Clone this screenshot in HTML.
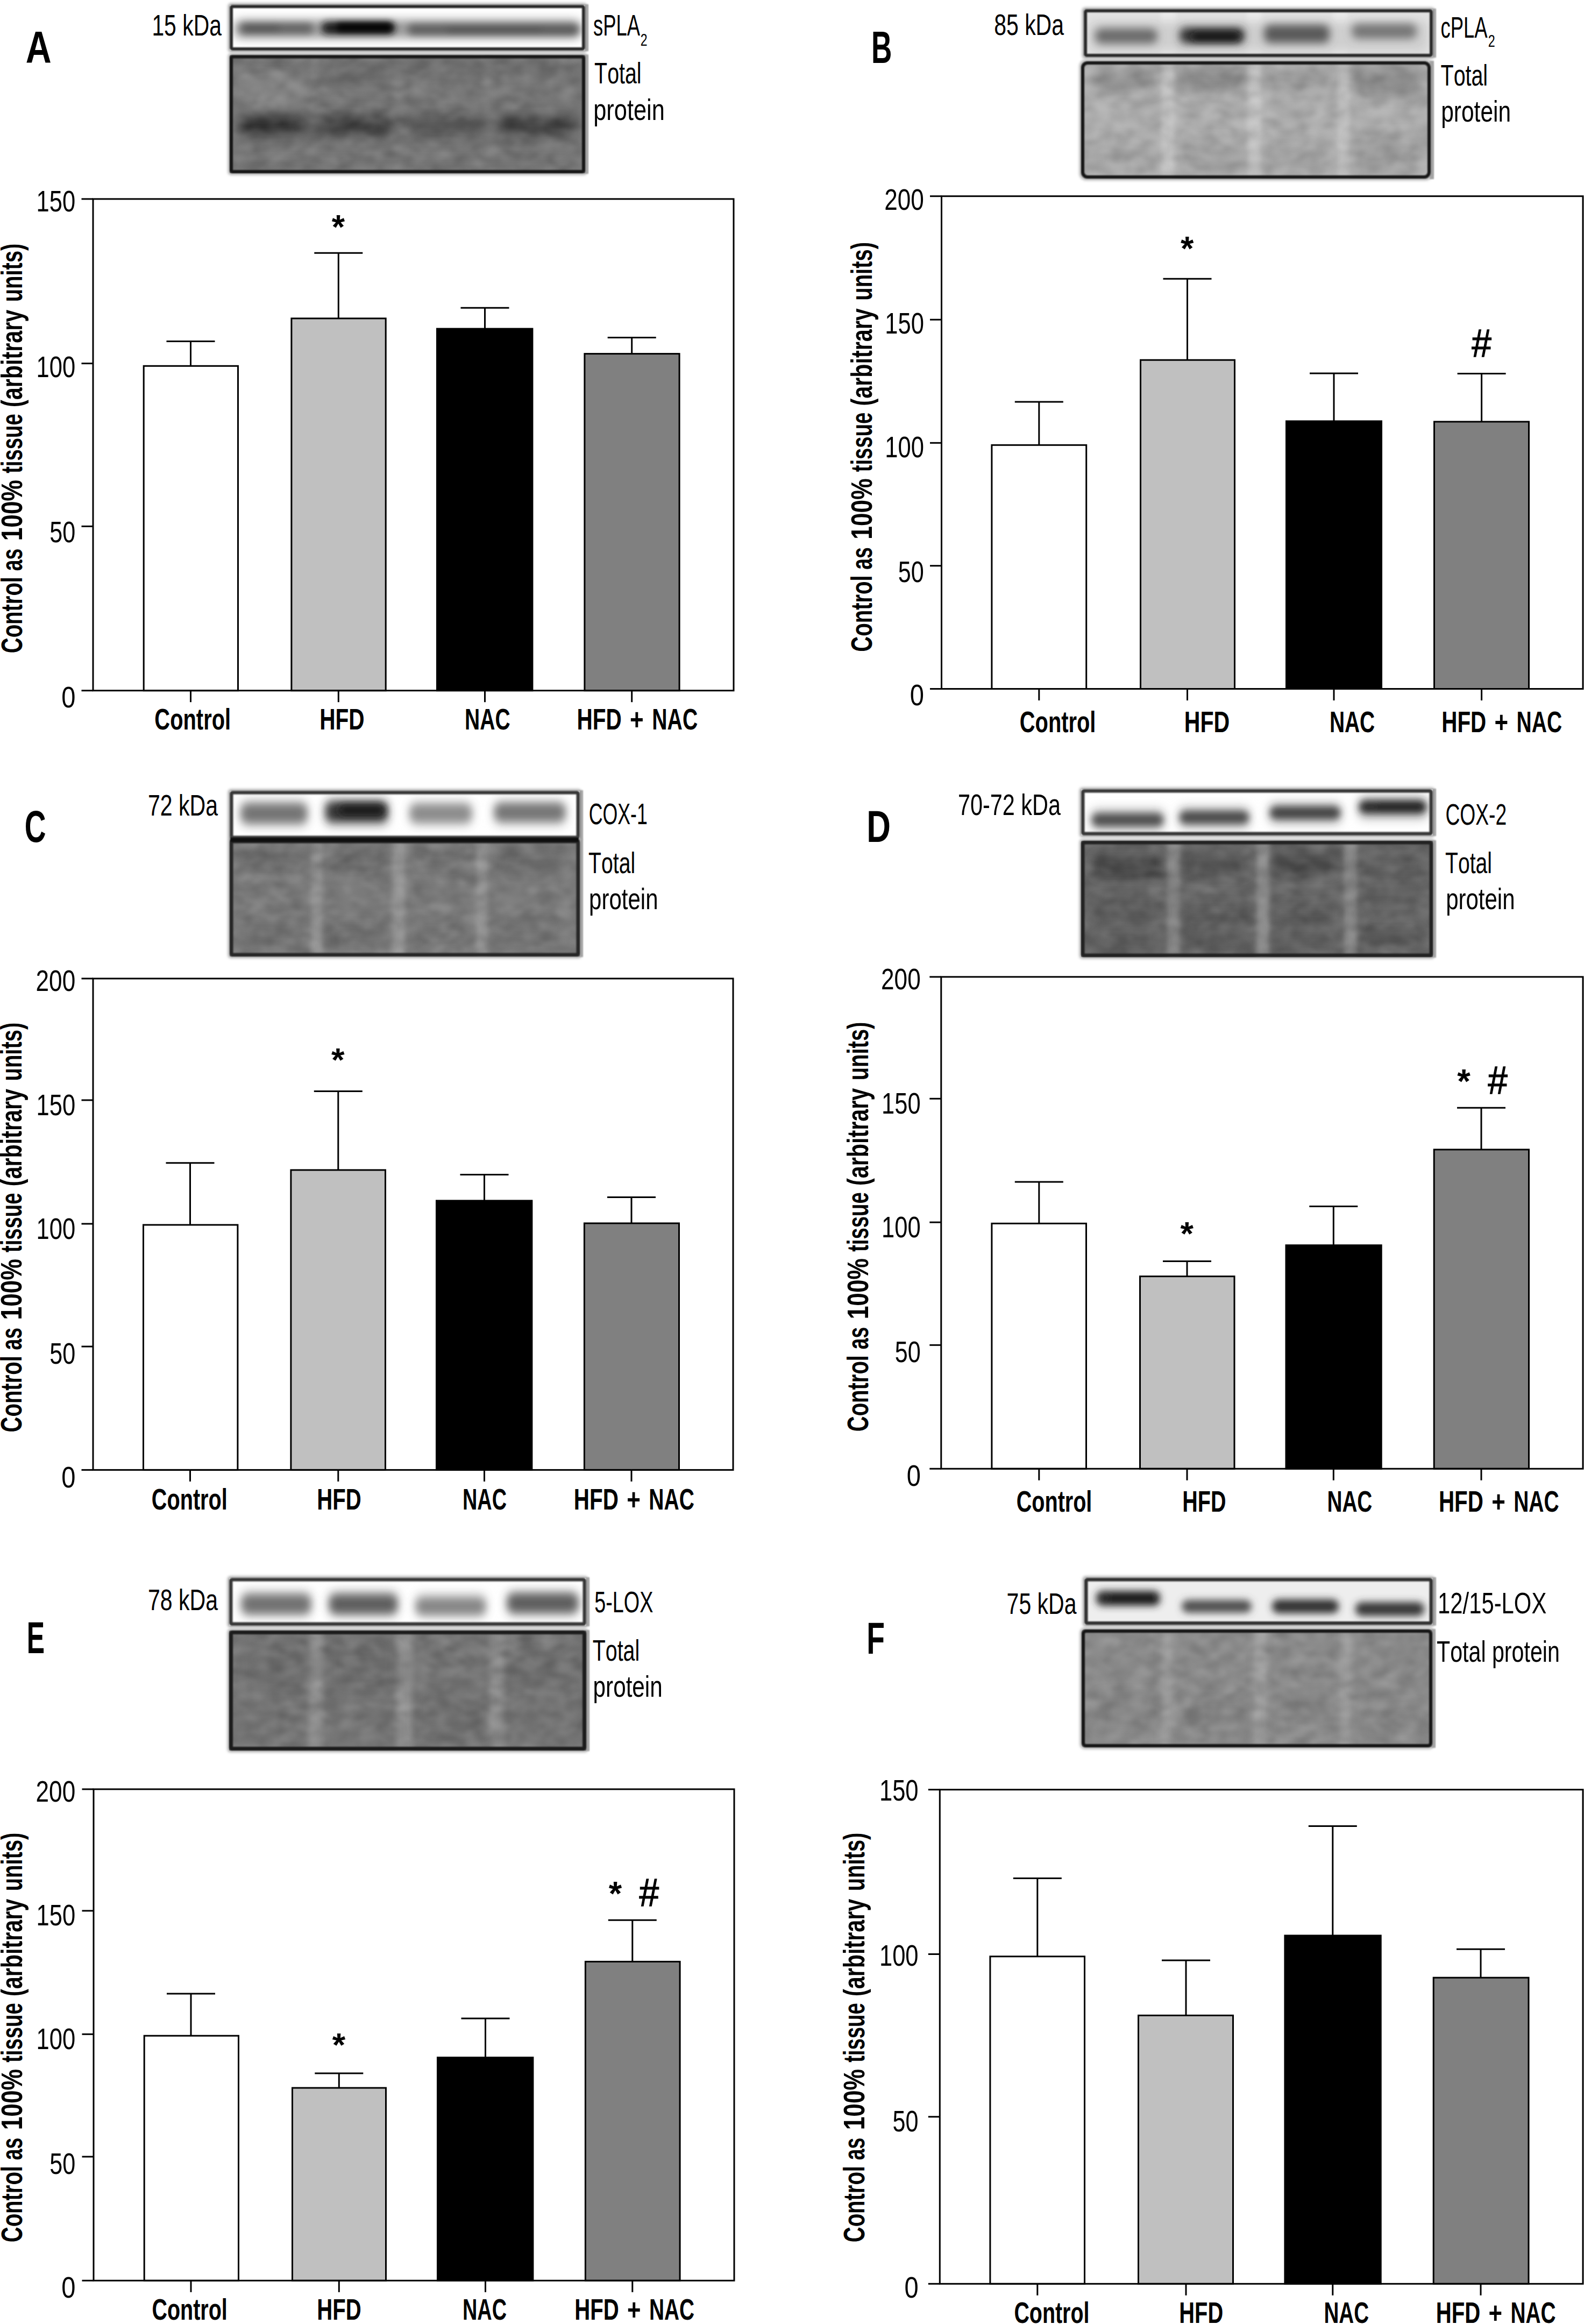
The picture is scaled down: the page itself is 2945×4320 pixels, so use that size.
<!DOCTYPE html>
<html><head><meta charset="utf-8"><title>Figure</title>
<style>html,body{margin:0;padding:0;background:#fff}svg{display:block}text{font-family:"Liberation Sans",sans-serif;font-kerning:none;fill:#000}</style>
</head><body>
<svg width="2945" height="4320" viewBox="0 0 2945 4320">
<defs>
<filter id="b1" x="-5%" y="-150%" width="110%" height="400%"><feGaussianBlur stdDeviation="1"/></filter>
<filter id="b2" x="-5%" y="-20%" width="110%" height="140%"><feGaussianBlur stdDeviation="2.5"/></filter>
<filter id="b5" x="-30%" y="-400%" width="160%" height="900%"><feGaussianBlur stdDeviation="5"/></filter>
<filter id="b6" x="-30%" y="-400%" width="160%" height="900%"><feGaussianBlur stdDeviation="6"/></filter>
<filter id="b7" x="-30%" y="-400%" width="160%" height="900%"><feGaussianBlur stdDeviation="7"/></filter>
<filter id="b8" x="-30%" y="-400%" width="160%" height="900%"><feGaussianBlur stdDeviation="8"/></filter>
<filter id="b9" x="-30%" y="-400%" width="160%" height="900%"><feGaussianBlur stdDeviation="9"/></filter>
<clipPath id="c1"><rect x="427" y="9" width="661" height="85" rx="2"/></clipPath>
<clipPath id="c2"><rect x="427" y="102.5" width="661" height="219.5" rx="2"/></clipPath>
<filter id="n2" x="0" y="0" width="100%" height="100%"><feTurbulence type="fractalNoise" baseFrequency="0.03 0.05" numOctaves="2" seed="2"/><feColorMatrix type="matrix" values="0 0 0 0 0  0 0 0 0 0  0 0 0 0 0  1.6 0 0 0 -0.5"/><feGaussianBlur stdDeviation="3"/></filter>
<filter id="w2" x="0" y="0" width="100%" height="100%"><feTurbulence type="fractalNoise" baseFrequency="0.03 0.05" numOctaves="2" seed="42"/><feColorMatrix type="matrix" values="0 0 0 0 1  0 0 0 0 1  0 0 0 0 1  1.6 0 0 0 -0.5"/><feGaussianBlur stdDeviation="3"/></filter>
<clipPath id="c3"><rect x="2015" y="17" width="649" height="89" rx="2"/></clipPath>
<clipPath id="c4"><rect x="2010" y="114" width="650" height="218" rx="9"/></clipPath>
<filter id="n4" x="0" y="0" width="100%" height="100%"><feTurbulence type="fractalNoise" baseFrequency="0.03 0.05" numOctaves="2" seed="5"/><feColorMatrix type="matrix" values="0 0 0 0 0  0 0 0 0 0  0 0 0 0 0  1.6 0 0 0 -0.5"/><feGaussianBlur stdDeviation="3"/></filter>
<filter id="w4" x="0" y="0" width="100%" height="100%"><feTurbulence type="fractalNoise" baseFrequency="0.03 0.05" numOctaves="2" seed="45"/><feColorMatrix type="matrix" values="0 0 0 0 1  0 0 0 0 1  0 0 0 0 1  1.6 0 0 0 -0.5"/><feGaussianBlur stdDeviation="3"/></filter>
<clipPath id="c5"><rect x="427" y="1470" width="651" height="90" rx="2"/></clipPath>
<clipPath id="c6"><rect x="427" y="1561" width="651" height="217" rx="2"/></clipPath>
<filter id="n6" x="0" y="0" width="100%" height="100%"><feTurbulence type="fractalNoise" baseFrequency="0.03 0.05" numOctaves="2" seed="7"/><feColorMatrix type="matrix" values="0 0 0 0 0  0 0 0 0 0  0 0 0 0 0  1.6 0 0 0 -0.5"/><feGaussianBlur stdDeviation="3"/></filter>
<filter id="w6" x="0" y="0" width="100%" height="100%"><feTurbulence type="fractalNoise" baseFrequency="0.03 0.05" numOctaves="2" seed="47"/><feColorMatrix type="matrix" values="0 0 0 0 1  0 0 0 0 1  0 0 0 0 1  1.6 0 0 0 -0.5"/><feGaussianBlur stdDeviation="3"/></filter>
<clipPath id="c7"><rect x="2010" y="1467" width="654" height="86" rx="2"/></clipPath>
<clipPath id="c8"><rect x="2010" y="1563" width="654" height="216" rx="2"/></clipPath>
<filter id="n8" x="0" y="0" width="100%" height="100%"><feTurbulence type="fractalNoise" baseFrequency="0.03 0.05" numOctaves="2" seed="11"/><feColorMatrix type="matrix" values="0 0 0 0 0  0 0 0 0 0  0 0 0 0 0  1.6 0 0 0 -0.5"/><feGaussianBlur stdDeviation="3"/></filter>
<filter id="w8" x="0" y="0" width="100%" height="100%"><feTurbulence type="fractalNoise" baseFrequency="0.03 0.05" numOctaves="2" seed="51"/><feColorMatrix type="matrix" values="0 0 0 0 1  0 0 0 0 1  0 0 0 0 1  1.6 0 0 0 -0.5"/><feGaussianBlur stdDeviation="3"/></filter>
<clipPath id="c9"><rect x="426" y="2933" width="664" height="89" rx="2"/></clipPath>
<clipPath id="c10"><rect x="426" y="3031" width="664" height="223" rx="2"/></clipPath>
<filter id="n10" x="0" y="0" width="100%" height="100%"><feTurbulence type="fractalNoise" baseFrequency="0.03 0.05" numOctaves="2" seed="13"/><feColorMatrix type="matrix" values="0 0 0 0 0  0 0 0 0 0  0 0 0 0 0  1.6 0 0 0 -0.5"/><feGaussianBlur stdDeviation="3"/></filter>
<filter id="w10" x="0" y="0" width="100%" height="100%"><feTurbulence type="fractalNoise" baseFrequency="0.03 0.05" numOctaves="2" seed="53"/><feColorMatrix type="matrix" values="0 0 0 0 1  0 0 0 0 1  0 0 0 0 1  1.6 0 0 0 -0.5"/><feGaussianBlur stdDeviation="3"/></filter>
<clipPath id="c11"><rect x="2016" y="2933" width="648" height="87.5" rx="2"/></clipPath>
<clipPath id="c12"><rect x="2011" y="3029" width="652" height="219" rx="5"/></clipPath>
<filter id="n12" x="0" y="0" width="100%" height="100%"><feTurbulence type="fractalNoise" baseFrequency="0.03 0.05" numOctaves="2" seed="17"/><feColorMatrix type="matrix" values="0 0 0 0 0  0 0 0 0 0  0 0 0 0 0  1.6 0 0 0 -0.5"/><feGaussianBlur stdDeviation="3"/></filter>
<filter id="w12" x="0" y="0" width="100%" height="100%"><feTurbulence type="fractalNoise" baseFrequency="0.03 0.05" numOctaves="2" seed="57"/><feColorMatrix type="matrix" values="0 0 0 0 1  0 0 0 0 1  0 0 0 0 1  1.6 0 0 0 -0.5"/><feGaussianBlur stdDeviation="3"/></filter>
</defs>
<rect width="2945" height="4320" fill="#fff"/>
<rect x="426.5" y="8.5" width="662" height="86" rx="3" fill="none" stroke="#a8a8a8" stroke-width="5" filter="url(#b2)"/>
<rect x="1086" y="8" width="8" height="87" fill="#a4a4a4" filter="url(#b1)"/>
<rect x="427" y="9" width="661" height="85" rx="2" fill="#fff"/>
<g clip-path="url(#c1)">
<g filter="url(#b9)">
<rect x="436.0" y="37.0" width="644.0" height="34" rx="12.0" fill="#9a9a9a"/>
</g>
<g filter="url(#b7)">
<rect x="446.0" y="44.5" width="136.0" height="17" rx="8.5" fill="#5e5e5e"/>
<rect x="452.0" y="45.0" width="68.0" height="14" rx="7.0" fill="#505050"/>
<rect x="598.0" y="41.0" width="136.0" height="22" rx="11.0" fill="#161616"/>
</g>
<g filter="url(#b6)">
<rect x="625.0" y="44.0" width="105.0" height="14" rx="7.0" fill="#000"/>
</g>
<g filter="url(#b7)">
<rect x="758.0" y="46.0" width="318.0" height="18" rx="9.0" fill="#5c5c5c"/>
<rect x="830.0" y="51.0" width="180.0" height="10" rx="5.0" fill="#4c4c4c"/>
<rect x="1010.0" y="51.0" width="64.0" height="12" rx="6.0" fill="#555"/>
</g>
</g>
<rect x="430.0" y="12.0" width="655" height="79" rx="2" fill="none" stroke="#2a2a2a" stroke-width="6" filter="url(#b1)"/>
<rect x="426.5" y="102.0" width="662" height="220.5" rx="3" fill="none" stroke="#a8a8a8" stroke-width="5" filter="url(#b2)"/>
<rect x="1086" y="101.5" width="8" height="221.5" fill="#a4a4a4" filter="url(#b1)"/>
<rect x="427" y="102.5" width="661" height="219.5" rx="2" fill="#767676"/>
<g clip-path="url(#c2)">
<g filter="url(#b5)">
<rect x="573.0" y="72.5" width="16" height="279.5" fill="#7e7e7e"/>
<rect x="732.0" y="72.5" width="20" height="279.5" fill="#7e7e7e"/>
<rect x="899.0" y="72.5" width="18" height="279.5" fill="#7e7e7e"/>
</g>
<g filter="url(#b9)">
<rect x="447.0" y="130.0" width="121.0" height="70" rx="12.0" fill="#848484"/>
<rect x="600.0" y="115.0" width="470.0" height="22" rx="11.0" fill="#686868"/>
<rect x="447.0" y="114.0" width="121.0" height="16" rx="8.0" fill="#666"/>
<rect x="600.0" y="140.0" width="120.0" height="20" rx="10.0" fill="#666"/>
<rect x="440.0" y="206.0" width="635.0" height="56" rx="12.0" fill="#666"/>
<rect x="447.0" y="216.0" width="121.0" height="36" rx="12.0" fill="#2c2c2c"/>
<rect x="594.0" y="217.0" width="128.0" height="34" rx="12.0" fill="#383838"/>
<rect x="765.0" y="218.0" width="125.0" height="30" rx="12.0" fill="#545454"/>
<rect x="928.0" y="217.0" width="140.0" height="34" rx="12.0" fill="#3a3a3a"/>
<rect x="440.0" y="285.0" width="635.0" height="30" rx="12.0" fill="#727272"/>
</g>
<rect x="427" y="102.5" width="661" height="219.5" filter="url(#n2)" opacity="0.17"/>
<rect x="427" y="102.5" width="661" height="219.5" filter="url(#w2)" opacity="0.17"/>
</g>
<rect x="430.0" y="105.5" width="655" height="213.5" rx="2" fill="none" stroke="#161616" stroke-width="6" filter="url(#b1)"/>
<rect x="2014.5" y="16.5" width="650" height="90" rx="3" fill="none" stroke="#a8a8a8" stroke-width="5" filter="url(#b2)"/>
<rect x="2662" y="16" width="8" height="91" fill="#a4a4a4" filter="url(#b1)"/>
<rect x="2015" y="17" width="649" height="89" rx="2" fill="#e2e2e2"/>
<g clip-path="url(#c3)">
<g filter="url(#b5)">
<rect x="2159.0" y="-13" width="26" height="149" fill="#ececec"/>
<rect x="2319.0" y="-13" width="26" height="149" fill="#ececec"/>
<rect x="2479.0" y="-13" width="26" height="149" fill="#ececec"/>
</g>
<g filter="url(#b9)">
<rect x="2025.0" y="40.0" width="630.0" height="56" rx="12.0" fill="#cfcfcf"/>
</g>
<g filter="url(#b8)">
<rect x="2036.0" y="53.0" width="116.0" height="28" rx="12.0" fill="#6a6a6a"/>
<rect x="2193.0" y="51.0" width="121.0" height="30" rx="12.0" fill="#303030"/>
</g>
<g filter="url(#b7)">
<rect x="2215.0" y="61.0" width="90.0" height="14" rx="7.0" fill="#141414"/>
</g>
<g filter="url(#b8)">
<rect x="2350.0" y="46.0" width="122.0" height="34" rx="12.0" fill="#5a5a5a"/>
<rect x="2513.0" y="44.0" width="121.0" height="28" rx="12.0" fill="#767676"/>
</g>
</g>
<rect x="2018.0" y="20.0" width="643" height="83" rx="2" fill="none" stroke="#2a2a2a" stroke-width="6" filter="url(#b1)"/>
<rect x="2009.5" y="113.5" width="651" height="219" rx="10" fill="none" stroke="#a8a8a8" stroke-width="5" filter="url(#b2)"/>
<rect x="2658" y="113" width="8" height="220" fill="#a4a4a4" filter="url(#b1)"/>
<rect x="2010" y="114" width="650" height="218" rx="9" fill="#b0b0b0"/>
<g clip-path="url(#c4)">
<g filter="url(#b5)">
<rect x="2159.0" y="84" width="24" height="278" fill="#c4c4c4"/>
<rect x="2319.0" y="84" width="26" height="278" fill="#c6c6c6"/>
<rect x="2486.0" y="84" width="24" height="278" fill="#c2c2c2"/>
</g>
<g filter="url(#b9)">
<rect x="2036.0" y="125.0" width="115.0" height="46" rx="12.0" fill="#949494"/>
<rect x="2195.0" y="123.0" width="117.0" height="46" rx="12.0" fill="#8a8a8a"/>
<rect x="2350.0" y="128.0" width="120.0" height="40" rx="12.0" fill="#9c9c9c"/>
<rect x="2513.0" y="120.0" width="127.0" height="60" rx="12.0" fill="#8e8e8e"/>
<rect x="2036.0" y="260.0" width="115.0" height="60" rx="12.0" fill="#a8a8a8"/>
<rect x="2195.0" y="260.0" width="117.0" height="60" rx="12.0" fill="#a4a4a4"/>
<rect x="2350.0" y="260.0" width="120.0" height="60" rx="12.0" fill="#a6a6a6"/>
<rect x="2513.0" y="250.0" width="127.0" height="70" rx="12.0" fill="#a0a0a0"/>
</g>
<rect x="2010" y="114" width="650" height="218" filter="url(#n4)" opacity="0.17"/>
<rect x="2010" y="114" width="650" height="218" filter="url(#w4)" opacity="0.17"/>
</g>
<rect x="2013.0" y="117.0" width="644" height="212" rx="9" fill="none" stroke="#141414" stroke-width="6" filter="url(#b1)"/>
<rect x="426.5" y="1469.5" width="652" height="91" rx="3" fill="none" stroke="#a8a8a8" stroke-width="5" filter="url(#b2)"/>
<rect x="1076" y="1469" width="8" height="92" fill="#a4a4a4" filter="url(#b1)"/>
<rect x="427" y="1470" width="651" height="90" rx="2" fill="#fff"/>
<g clip-path="url(#c5)">
<g filter="url(#b9)">
<rect x="447.0" y="1485.0" width="125.0" height="54" rx="12.0" fill="#d0d0d0"/>
<rect x="604.0" y="1483.0" width="118.0" height="54" rx="12.0" fill="#c0c0c0"/>
<rect x="761.0" y="1487.0" width="117.0" height="50" rx="12.0" fill="#d8d8d8"/>
<rect x="918.0" y="1486.0" width="134.0" height="50" rx="12.0" fill="#d0d0d0"/>
</g>
<g filter="url(#b8)">
<rect x="449.0" y="1495.0" width="121.0" height="34" rx="12.0" fill="#747474"/>
<rect x="606.0" y="1491.0" width="114.0" height="36" rx="12.0" fill="#363636"/>
</g>
<g filter="url(#b7)">
<rect x="630.0" y="1497.0" width="85.0" height="18" rx="9.0" fill="#1c1c1c"/>
</g>
<g filter="url(#b8)">
<rect x="763.0" y="1496.0" width="113.0" height="32" rx="12.0" fill="#8c8c8c"/>
<rect x="920.0" y="1494.0" width="130.0" height="32" rx="12.0" fill="#767676"/>
</g>
</g>
<rect x="430.25" y="1473.25" width="644.5" height="83.5" rx="2" fill="none" stroke="#383838" stroke-width="6.5" filter="url(#b1)"/>
<rect x="426.5" y="1560.5" width="652" height="218" rx="3" fill="none" stroke="#a8a8a8" stroke-width="5" filter="url(#b2)"/>
<rect x="1076" y="1560" width="8" height="219" fill="#a4a4a4" filter="url(#b1)"/>
<rect x="427" y="1561" width="651" height="217" rx="2" fill="#7a7a7a"/>
<g clip-path="url(#c6)">
<g filter="url(#b5)">
<rect x="578.0" y="1531" width="22" height="277" fill="#909090"/>
<rect x="729.0" y="1531" width="24" height="277" fill="#949494"/>
<rect x="885.0" y="1531" width="22" height="277" fill="#909090"/>
</g>
<g filter="url(#b9)">
<rect x="449.0" y="1575.0" width="121.0" height="50" rx="12.0" fill="#6e6e6e"/>
<rect x="606.0" y="1575.0" width="114.0" height="50" rx="12.0" fill="#6a6a6a"/>
<rect x="763.0" y="1575.0" width="113.0" height="50" rx="12.0" fill="#727272"/>
<rect x="920.0" y="1575.0" width="130.0" height="50" rx="12.0" fill="#6a6a6a"/>
<rect x="449.0" y="1710.0" width="121.0" height="50" rx="12.0" fill="#707070"/>
<rect x="606.0" y="1710.0" width="114.0" height="50" rx="12.0" fill="#707070"/>
<rect x="763.0" y="1715.0" width="113.0" height="40" rx="12.0" fill="#747474"/>
<rect x="920.0" y="1710.0" width="130.0" height="50" rx="12.0" fill="#727272"/>
</g>
<rect x="427" y="1561" width="651" height="217" filter="url(#n6)" opacity="0.17"/>
<rect x="427" y="1561" width="651" height="217" filter="url(#w6)" opacity="0.17"/>
</g>
<rect x="430.25" y="1564.25" width="644.5" height="210.5" rx="2" fill="none" stroke="#262626" stroke-width="6.5" filter="url(#b1)"/>
<rect x="428" y="1556.5" width="648" height="8" fill="#080808" filter="url(#b1)"/>
<rect x="2009.5" y="1466.5" width="655" height="87" rx="3" fill="none" stroke="#a8a8a8" stroke-width="5" filter="url(#b2)"/>
<rect x="2662" y="1466" width="8" height="88" fill="#a4a4a4" filter="url(#b1)"/>
<rect x="2010" y="1467" width="654" height="86" rx="2" fill="#fff"/>
<g clip-path="url(#c7)">
<g filter="url(#b9)">
<rect x="2028.0" y="1502.0" width="137.0" height="44" rx="12.0" fill="#cecece"/>
<rect x="2191.0" y="1498.0" width="133.0" height="44" rx="12.0" fill="#cecece"/>
<rect x="2359.0" y="1490.0" width="135.0" height="44" rx="12.0" fill="#cccccc"/>
<rect x="2525.0" y="1480.0" width="129.0" height="44" rx="12.0" fill="#c4c4c4"/>
</g>
<g filter="url(#b7)">
<rect x="2030.0" y="1512.0" width="133.0" height="24" rx="12.0" fill="#505050"/>
<rect x="2193.0" y="1507.5" width="129.0" height="24" rx="12.0" fill="#4c4c4c"/>
<rect x="2361.0" y="1499.0" width="131.0" height="24" rx="12.0" fill="#444"/>
<rect x="2527.0" y="1488.0" width="125.0" height="24" rx="12.0" fill="#2a2a2a"/>
<rect x="2560.0" y="1493.0" width="88.0" height="12" rx="6.0" fill="#1c1c1c"/>
</g>
</g>
<rect x="2013.25" y="1470.25" width="647.5" height="79.5" rx="2" fill="none" stroke="#383838" stroke-width="6.5" filter="url(#b1)"/>
<rect x="2009.5" y="1562.5" width="655" height="217" rx="3" fill="none" stroke="#a8a8a8" stroke-width="5" filter="url(#b2)"/>
<rect x="2662" y="1562" width="8" height="218" fill="#a4a4a4" filter="url(#b1)"/>
<rect x="2010" y="1563" width="654" height="216" rx="2" fill="#646464"/>
<g clip-path="url(#c8)">
<g filter="url(#b5)">
<rect x="2170.0" y="1533" width="24" height="276" fill="#868686"/>
<rect x="2336.0" y="1533" width="24" height="276" fill="#8a8a8a"/>
<rect x="2499.0" y="1533" width="24" height="276" fill="#868686"/>
</g>
<g filter="url(#b8)">
<rect x="2032.0" y="1587.0" width="129.0" height="46" rx="12.0" fill="#4a4a4a"/>
<rect x="2195.0" y="1588.0" width="125.0" height="44" rx="12.0" fill="#545454"/>
<rect x="2363.0" y="1583.0" width="127.0" height="44" rx="12.0" fill="#4e4e4e"/>
<rect x="2529.0" y="1595.0" width="121.0" height="40" rx="12.0" fill="#5a5a5a"/>
<rect x="2032.0" y="1670.0" width="129.0" height="40" rx="12.0" fill="#565656"/>
<rect x="2195.0" y="1680.0" width="125.0" height="40" rx="12.0" fill="#5a5a5a"/>
<rect x="2363.0" y="1680.0" width="127.0" height="40" rx="12.0" fill="#5a5a5a"/>
<rect x="2529.0" y="1660.0" width="121.0" height="40" rx="12.0" fill="#5e5e5e"/>
<rect x="2032.0" y="1735.0" width="129.0" height="30" rx="12.0" fill="#5a5a5a"/>
<rect x="2195.0" y="1735.0" width="125.0" height="30" rx="12.0" fill="#565656"/>
<rect x="2363.0" y="1735.0" width="127.0" height="30" rx="12.0" fill="#5c5c5c"/>
<rect x="2529.0" y="1725.0" width="121.0" height="30" rx="12.0" fill="#545454"/>
</g>
<rect x="2010" y="1563" width="654" height="216" filter="url(#n8)" opacity="0.17"/>
<rect x="2010" y="1563" width="654" height="216" filter="url(#w8)" opacity="0.17"/>
</g>
<rect x="2013.25" y="1566.25" width="647.5" height="209.5" rx="2" fill="none" stroke="#222" stroke-width="6.5" filter="url(#b1)"/>
<rect x="425.5" y="2932.5" width="665" height="90" rx="3" fill="none" stroke="#a8a8a8" stroke-width="5" filter="url(#b2)"/>
<rect x="1088" y="2932" width="8" height="91" fill="#a4a4a4" filter="url(#b1)"/>
<rect x="426" y="2933" width="664" height="89" rx="2" fill="#fff"/>
<g clip-path="url(#c9)">
<g filter="url(#b9)">
<rect x="448.0" y="2955.0" width="131.0" height="52" rx="12.0" fill="#d0d0d0"/>
<rect x="611.0" y="2955.0" width="129.0" height="52" rx="12.0" fill="#cacaca"/>
<rect x="772.0" y="2960.0" width="132.0" height="48" rx="12.0" fill="#d6d6d6"/>
<rect x="942.0" y="2954.0" width="134.0" height="52" rx="12.0" fill="#cacaca"/>
</g>
<g filter="url(#b8)">
<rect x="450.0" y="2965.0" width="127.0" height="34" rx="12.0" fill="#727272"/>
<rect x="613.0" y="2965.0" width="125.0" height="34" rx="12.0" fill="#5e5e5e"/>
<rect x="774.0" y="2971.0" width="128.0" height="30" rx="12.0" fill="#868686"/>
<rect x="944.0" y="2963.0" width="130.0" height="34" rx="12.0" fill="#5e5e5e"/>
</g>
</g>
<rect x="429.25" y="2936.25" width="657.5" height="82.5" rx="2" fill="none" stroke="#383838" stroke-width="6.5" filter="url(#b1)"/>
<rect x="425.5" y="3030.5" width="665" height="224" rx="3" fill="none" stroke="#a8a8a8" stroke-width="5" filter="url(#b2)"/>
<rect x="1088" y="3030" width="8" height="225" fill="#a4a4a4" filter="url(#b1)"/>
<rect x="426" y="3031" width="664" height="223" rx="2" fill="#737373"/>
<g clip-path="url(#c10)">
<g filter="url(#b6)">
<rect x="574.0" y="3001" width="26" height="283" fill="#8c8c8c"/>
<rect x="737.0" y="3001" width="30" height="283" fill="#909090"/>
<rect x="909.0" y="3001" width="28" height="283" fill="#8a8a8a"/>
</g>
<g filter="url(#b9)">
<rect x="450.0" y="3060.0" width="127.0" height="80" rx="12.0" fill="#6d6d6d"/>
<rect x="613.0" y="3060.0" width="125.0" height="80" rx="12.0" fill="#6a6a6a"/>
<rect x="774.0" y="3140.0" width="128.0" height="80" rx="12.0" fill="#6d6d6d"/>
<rect x="944.0" y="3065.0" width="130.0" height="70" rx="12.0" fill="#6d6d6d"/>
</g>
<rect x="426" y="3031" width="664" height="223" filter="url(#n10)" opacity="0.17"/>
<rect x="426" y="3031" width="664" height="223" filter="url(#w10)" opacity="0.17"/>
</g>
<rect x="429.5" y="3034.5" width="657" height="216" rx="2" fill="none" stroke="#1e1e1e" stroke-width="7" filter="url(#b1)"/>
<rect x="2015.5" y="2932.5" width="649" height="88.5" rx="3" fill="none" stroke="#a8a8a8" stroke-width="5" filter="url(#b2)"/>
<rect x="2662" y="2932" width="8" height="89.5" fill="#a4a4a4" filter="url(#b1)"/>
<rect x="2016" y="2933" width="648" height="87.5" rx="2" fill="#eee"/>
<g clip-path="url(#c11)">
<g filter="url(#b7)">
<rect x="2038.0" y="2957.0" width="119.0" height="28" rx="12.0" fill="#2a2a2a"/>
<rect x="2060.0" y="2965.0" width="90.0" height="14" rx="7.0" fill="#161616"/>
<rect x="2197.0" y="2974.0" width="130.0" height="24" rx="12.0" fill="#505050"/>
<rect x="2365.0" y="2973.0" width="124.0" height="26" rx="12.0" fill="#303030"/>
<rect x="2520.0" y="2978.0" width="128.0" height="26" rx="12.0" fill="#383838"/>
</g>
</g>
<rect x="2019.25" y="2936.25" width="641.5" height="81.0" rx="2" fill="none" stroke="#333" stroke-width="6.5" filter="url(#b1)"/>
<rect x="2010.5" y="3028.5" width="653" height="220" rx="6" fill="none" stroke="#a8a8a8" stroke-width="5" filter="url(#b2)"/>
<rect x="2661" y="3028" width="8" height="221" fill="#a4a4a4" filter="url(#b1)"/>
<rect x="2011" y="3029" width="652" height="219" rx="5" fill="#8a8a8a"/>
<g clip-path="url(#c12)">
<g filter="url(#b6)">
<rect x="2158.0" y="2999" width="22" height="279" fill="#9c9c9c"/>
<rect x="2331.0" y="2999" width="24" height="279" fill="#a0a0a0"/>
<rect x="2489.0" y="2999" width="22" height="279" fill="#9c9c9c"/>
</g>
<g filter="url(#b9)">
<rect x="2040.0" y="3150.0" width="115.0" height="60" rx="12.0" fill="#858585"/>
<rect x="2199.0" y="3160.0" width="126.0" height="60" rx="12.0" fill="#828282"/>
<rect x="2367.0" y="3150.0" width="120.0" height="60" rx="12.0" fill="#848484"/>
<rect x="2522.0" y="3170.0" width="124.0" height="60" rx="12.0" fill="#878787"/>
</g>
<rect x="2011" y="3029" width="652" height="219" filter="url(#n12)" opacity="0.17"/>
<rect x="2011" y="3029" width="652" height="219" filter="url(#w12)" opacity="0.17"/>
</g>
<rect x="2014.0" y="3032.0" width="646" height="213" rx="5" fill="none" stroke="#141414" stroke-width="6" filter="url(#b1)"/>
<path d="M354.5 634.4L354.5 679.4" stroke="#000" stroke-width="3.0" fill="none"/>
<path d="M309.5 634.4L399.5 634.4" stroke="#000" stroke-width="3.0" fill="none"/>
<rect x="267.2" y="680.3" width="175.3" height="603.4" fill="#fff" stroke="#000" stroke-width="3.0"/>
<path d="M354.5 1283.7L354.5 1305.2" stroke="#000" stroke-width="3.0" fill="none"/>
<path d="M629.3 470.3L629.3 591.0" stroke="#000" stroke-width="3.0" fill="none"/>
<path d="M584.3 470.3L674.3 470.3" stroke="#000" stroke-width="3.0" fill="none"/>
<rect x="541.9" y="591.9" width="175.3" height="691.8" fill="#c0c0c0" stroke="#000" stroke-width="3.0"/>
<path d="M629.3 1283.7L629.3 1305.2" stroke="#000" stroke-width="3.0" fill="none"/>
<path d="M901.5 572.3L901.5 610.2" stroke="#000" stroke-width="3.0" fill="none"/>
<path d="M856.5 572.3L946.5 572.3" stroke="#000" stroke-width="3.0" fill="none"/>
<rect x="812.5" y="611.1" width="177.4" height="672.6" fill="#000" stroke="#000" stroke-width="3.0"/>
<path d="M901.5 1283.7L901.5 1305.2" stroke="#000" stroke-width="3.0" fill="none"/>
<path d="M1174.7 627.4L1174.7 656.7" stroke="#000" stroke-width="3.0" fill="none"/>
<path d="M1129.7 627.4L1219.7 627.4" stroke="#000" stroke-width="3.0" fill="none"/>
<rect x="1086.9" y="657.6" width="176.2" height="626.1" fill="#808080" stroke="#000" stroke-width="3.0"/>
<path d="M1174.7 1283.7L1174.7 1305.2" stroke="#000" stroke-width="3.0" fill="none"/>
<rect x="173.0" y="369.9" width="1191.0" height="913.8" fill="none" stroke="#000" stroke-width="3.0"/>
<path d="M151.5 369.9L173.0 369.9" stroke="#000" stroke-width="3.0" fill="none"/>
<text transform="translate(67.58,392.80) scale(0.7913,1)" font-size="55">150</text>
<path d="M151.5 675.6L173.0 675.6" stroke="#000" stroke-width="3.0" fill="none"/>
<text transform="translate(67.58,700.70) scale(0.7913,1)" font-size="55">100</text>
<path d="M151.5 978.4L173.0 978.4" stroke="#000" stroke-width="3.0" fill="none"/>
<text transform="translate(92.17,1007.70) scale(0.7848,1)" font-size="55">50</text>
<path d="M151.5 1283.7L173.0 1283.7" stroke="#000" stroke-width="3.0" fill="none"/>
<text transform="translate(114.16,1314.80) scale(0.8558,1)" font-size="55">0</text>
<text transform="translate(287.36,1355.80) scale(0.7121,1)" font-size="56" font-weight="700">Control</text>
<text transform="translate(594.28,1355.80) scale(0.7248,1)" font-size="56" font-weight="700">HFD</text>
<text transform="translate(864.09,1355.80) scale(0.6963,1)" font-size="56" font-weight="700">NAC</text>
<text transform="translate(1072.49,1355.80) scale(0.7236,1)" font-size="56" font-weight="700">HFD</text>
<text transform="translate(1171.11,1355.80) scale(0.7866,1)" font-size="56" font-weight="700">+</text>
<text transform="translate(1212.32,1355.80) scale(0.6994,1)" font-size="56" font-weight="700">NAC</text>
<text transform="translate(41.30,1214.24) rotate(-90) scale(0.7147,1)" font-size="56" font-weight="700">Control</text>
<text transform="translate(41.30,1061.29) rotate(-90) scale(0.6649,1)" font-size="56" font-weight="700">as</text>
<text transform="translate(41.30,1005.29) rotate(-90) scale(0.7908,1)" font-size="56" font-weight="700">100%</text>
<text transform="translate(41.30,879.87) rotate(-90) scale(0.6832,1)" font-size="56" font-weight="700">tissue</text>
<text transform="translate(41.30,757.06) rotate(-90) scale(0.7373,1)" font-size="56" font-weight="700">(arbitrary</text>
<text transform="translate(41.30,561.28) rotate(-90) scale(0.7130,1)" font-size="56" font-weight="700">units)</text>
<path d="M1931.8 747.0L1931.8 826.4" stroke="#000" stroke-width="3.0" fill="none"/>
<path d="M1886.8 747.0L1976.8 747.0" stroke="#000" stroke-width="3.0" fill="none"/>
<rect x="1843.9" y="827.3" width="175.8" height="453.2" fill="#fff" stroke="#000" stroke-width="3.0"/>
<path d="M1931.8 1280.5L1931.8 1302.0" stroke="#000" stroke-width="3.0" fill="none"/>
<path d="M2207.5 518.3L2207.5 668.3" stroke="#000" stroke-width="3.0" fill="none"/>
<path d="M2162.5 518.3L2252.5 518.3" stroke="#000" stroke-width="3.0" fill="none"/>
<rect x="2120.5" y="669.2" width="175.0" height="611.3" fill="#c0c0c0" stroke="#000" stroke-width="3.0"/>
<path d="M2207.5 1280.5L2207.5 1302.0" stroke="#000" stroke-width="3.0" fill="none"/>
<path d="M2480.0 694.0L2480.0 782.0" stroke="#000" stroke-width="3.0" fill="none"/>
<path d="M2435.0 694.0L2525.0 694.0" stroke="#000" stroke-width="3.0" fill="none"/>
<rect x="2391.5" y="782.9" width="177.0" height="497.6" fill="#000" stroke="#000" stroke-width="3.0"/>
<path d="M2480.0 1280.5L2480.0 1302.0" stroke="#000" stroke-width="3.0" fill="none"/>
<path d="M2754.6 694.5L2754.6 783.0" stroke="#000" stroke-width="3.0" fill="none"/>
<path d="M2709.6 694.5L2799.6 694.5" stroke="#000" stroke-width="3.0" fill="none"/>
<rect x="2666.5" y="783.9" width="176.0" height="496.6" fill="#808080" stroke="#000" stroke-width="3.0"/>
<path d="M2754.6 1280.5L2754.6 1302.0" stroke="#000" stroke-width="3.0" fill="none"/>
<rect x="1750.5" y="364.7" width="1192.5" height="915.8" fill="none" stroke="#000" stroke-width="3.0"/>
<path d="M1729.0 364.7L1750.5 364.7" stroke="#000" stroke-width="3.0" fill="none"/>
<text transform="translate(1644.28,389.80) scale(0.8025,1)" font-size="55">200</text>
<path d="M1729.0 594.2L1750.5 594.2" stroke="#000" stroke-width="3.0" fill="none"/>
<text transform="translate(1645.28,620.10) scale(0.7913,1)" font-size="55">150</text>
<path d="M1729.0 823.3L1750.5 823.3" stroke="#000" stroke-width="3.0" fill="none"/>
<text transform="translate(1645.28,850.30) scale(0.7913,1)" font-size="55">100</text>
<path d="M1729.0 1051.7L1750.5 1051.7" stroke="#000" stroke-width="3.0" fill="none"/>
<text transform="translate(1669.87,1081.90) scale(0.7848,1)" font-size="55">50</text>
<path d="M1729.0 1280.5L1750.5 1280.5" stroke="#000" stroke-width="3.0" fill="none"/>
<text transform="translate(1691.86,1310.90) scale(0.8558,1)" font-size="55">0</text>
<text transform="translate(1895.87,1360.80) scale(0.7106,1)" font-size="56" font-weight="700">Control</text>
<text transform="translate(2201.75,1360.80) scale(0.7340,1)" font-size="56" font-weight="700">HFD</text>
<text transform="translate(2471.89,1360.80) scale(0.6954,1)" font-size="56" font-weight="700">NAC</text>
<text transform="translate(2680.30,1360.80) scale(0.7206,1)" font-size="56" font-weight="700">HFD</text>
<text transform="translate(2778.52,1360.80) scale(0.7834,1)" font-size="56" font-weight="700">+</text>
<text transform="translate(2819.56,1360.80) scale(0.6966,1)" font-size="56" font-weight="700">NAC</text>
<text transform="translate(1620.50,1211.64) rotate(-90) scale(0.7147,1)" font-size="56" font-weight="700">Control</text>
<text transform="translate(1620.50,1058.69) rotate(-90) scale(0.6649,1)" font-size="56" font-weight="700">as</text>
<text transform="translate(1620.50,1002.69) rotate(-90) scale(0.7908,1)" font-size="56" font-weight="700">100%</text>
<text transform="translate(1620.50,877.27) rotate(-90) scale(0.6832,1)" font-size="56" font-weight="700">tissue</text>
<text transform="translate(1620.50,754.46) rotate(-90) scale(0.7373,1)" font-size="56" font-weight="700">(arbitrary</text>
<text transform="translate(1620.50,558.68) rotate(-90) scale(0.7130,1)" font-size="56" font-weight="700">units)</text>
<path d="M353.5 2161.8L353.5 2276.0" stroke="#000" stroke-width="3.0" fill="none"/>
<path d="M308.5 2161.8L398.5 2161.8" stroke="#000" stroke-width="3.0" fill="none"/>
<rect x="266.5" y="2276.9" width="175.4" height="455.5" fill="#fff" stroke="#000" stroke-width="3.0"/>
<path d="M353.5 2732.4L353.5 2753.9" stroke="#000" stroke-width="3.0" fill="none"/>
<path d="M628.8 2028.5L628.8 2174.0" stroke="#000" stroke-width="3.0" fill="none"/>
<path d="M583.8 2028.5L673.8 2028.5" stroke="#000" stroke-width="3.0" fill="none"/>
<rect x="540.9" y="2174.9" width="175.6" height="557.5" fill="#c0c0c0" stroke="#000" stroke-width="3.0"/>
<path d="M628.8 2732.4L628.8 2753.9" stroke="#000" stroke-width="3.0" fill="none"/>
<path d="M900.5 2183.5L900.5 2231.0" stroke="#000" stroke-width="3.0" fill="none"/>
<path d="M855.5 2183.5L945.5 2183.5" stroke="#000" stroke-width="3.0" fill="none"/>
<rect x="811.5" y="2231.9" width="177.4" height="500.5" fill="#000" stroke="#000" stroke-width="3.0"/>
<path d="M900.5 2732.4L900.5 2753.9" stroke="#000" stroke-width="3.0" fill="none"/>
<path d="M1174.0 2225.5L1174.0 2273.0" stroke="#000" stroke-width="3.0" fill="none"/>
<path d="M1129.0 2225.5L1219.0 2225.5" stroke="#000" stroke-width="3.0" fill="none"/>
<rect x="1086.4" y="2273.9" width="176.1" height="458.5" fill="#808080" stroke="#000" stroke-width="3.0"/>
<path d="M1174.0 2732.4L1174.0 2753.9" stroke="#000" stroke-width="3.0" fill="none"/>
<rect x="173.0" y="1819.0" width="1190.0" height="913.4" fill="none" stroke="#000" stroke-width="3.0"/>
<path d="M151.5 1819.0L173.0 1819.0" stroke="#000" stroke-width="3.0" fill="none"/>
<text transform="translate(66.58,1842.00) scale(0.8025,1)" font-size="55">200</text>
<path d="M151.5 2045.0L173.0 2045.0" stroke="#000" stroke-width="3.0" fill="none"/>
<text transform="translate(67.58,2073.00) scale(0.7913,1)" font-size="55">150</text>
<path d="M151.5 2274.9L173.0 2274.9" stroke="#000" stroke-width="3.0" fill="none"/>
<text transform="translate(67.58,2303.40) scale(0.7913,1)" font-size="55">100</text>
<path d="M151.5 2503.0L173.0 2503.0" stroke="#000" stroke-width="3.0" fill="none"/>
<text transform="translate(92.17,2534.50) scale(0.7848,1)" font-size="55">50</text>
<path d="M151.5 2732.4L173.0 2732.4" stroke="#000" stroke-width="3.0" fill="none"/>
<text transform="translate(114.16,2764.80) scale(0.8558,1)" font-size="55">0</text>
<text transform="translate(281.87,2805.80) scale(0.7080,1)" font-size="56" font-weight="700">Control</text>
<text transform="translate(589.32,2805.80) scale(0.7156,1)" font-size="56" font-weight="700">HFD</text>
<text transform="translate(859.97,2805.80) scale(0.6765,1)" font-size="56" font-weight="700">NAC</text>
<text transform="translate(1066.80,2805.80) scale(0.7216,1)" font-size="56" font-weight="700">HFD</text>
<text transform="translate(1165.15,2805.80) scale(0.7845,1)" font-size="56" font-weight="700">+</text>
<text transform="translate(1206.24,2805.80) scale(0.6975,1)" font-size="56" font-weight="700">NAC</text>
<text transform="translate(40.40,2662.44) rotate(-90) scale(0.7147,1)" font-size="56" font-weight="700">Control</text>
<text transform="translate(40.40,2509.49) rotate(-90) scale(0.6649,1)" font-size="56" font-weight="700">as</text>
<text transform="translate(40.40,2453.49) rotate(-90) scale(0.7908,1)" font-size="56" font-weight="700">100%</text>
<text transform="translate(40.40,2328.07) rotate(-90) scale(0.6832,1)" font-size="56" font-weight="700">tissue</text>
<text transform="translate(40.40,2205.26) rotate(-90) scale(0.7373,1)" font-size="56" font-weight="700">(arbitrary</text>
<text transform="translate(40.40,2009.48) rotate(-90) scale(0.7130,1)" font-size="56" font-weight="700">units)</text>
<path d="M1931.8 2197.0L1931.8 2273.4" stroke="#000" stroke-width="3.0" fill="none"/>
<path d="M1886.8 2197.0L1976.8 2197.0" stroke="#000" stroke-width="3.0" fill="none"/>
<rect x="1843.9" y="2274.3" width="175.6" height="455.9" fill="#fff" stroke="#000" stroke-width="3.0"/>
<path d="M1931.8 2730.2L1931.8 2751.7" stroke="#000" stroke-width="3.0" fill="none"/>
<path d="M2207.0 2344.4L2207.0 2371.7" stroke="#000" stroke-width="3.0" fill="none"/>
<path d="M2162.0 2344.4L2252.0 2344.4" stroke="#000" stroke-width="3.0" fill="none"/>
<rect x="2119.5" y="2372.6" width="175.5" height="357.6" fill="#c0c0c0" stroke="#000" stroke-width="3.0"/>
<path d="M2207.0 2730.2L2207.0 2751.7" stroke="#000" stroke-width="3.0" fill="none"/>
<path d="M2479.3 2242.6L2479.3 2313.8" stroke="#000" stroke-width="3.0" fill="none"/>
<path d="M2434.3 2242.6L2524.3 2242.6" stroke="#000" stroke-width="3.0" fill="none"/>
<rect x="2391.0" y="2314.7" width="177.2" height="415.5" fill="#000" stroke="#000" stroke-width="3.0"/>
<path d="M2479.3 2730.2L2479.3 2751.7" stroke="#000" stroke-width="3.0" fill="none"/>
<path d="M2754.0 2059.3L2754.0 2136.0" stroke="#000" stroke-width="3.0" fill="none"/>
<path d="M2709.0 2059.3L2799.0 2059.3" stroke="#000" stroke-width="3.0" fill="none"/>
<rect x="2666.2" y="2136.9" width="176.3" height="593.3" fill="#808080" stroke="#000" stroke-width="3.0"/>
<path d="M2754.0 2730.2L2754.0 2751.7" stroke="#000" stroke-width="3.0" fill="none"/>
<rect x="1749.8" y="1815.9" width="1193.2" height="914.3" fill="none" stroke="#000" stroke-width="3.0"/>
<path d="M1728.3 1815.9L1749.8 1815.9" stroke="#000" stroke-width="3.0" fill="none"/>
<text transform="translate(1638.08,1838.80) scale(0.8025,1)" font-size="55">200</text>
<path d="M1728.3 2042.3L1749.8 2042.3" stroke="#000" stroke-width="3.0" fill="none"/>
<text transform="translate(1639.08,2069.90) scale(0.7913,1)" font-size="55">150</text>
<path d="M1728.3 2272.1L1749.8 2272.1" stroke="#000" stroke-width="3.0" fill="none"/>
<text transform="translate(1639.08,2300.20) scale(0.7913,1)" font-size="55">100</text>
<path d="M1728.3 2500.3L1749.8 2500.3" stroke="#000" stroke-width="3.0" fill="none"/>
<text transform="translate(1663.67,2531.80) scale(0.7848,1)" font-size="55">50</text>
<path d="M1728.3 2730.2L1749.8 2730.2" stroke="#000" stroke-width="3.0" fill="none"/>
<text transform="translate(1685.66,2762.00) scale(0.8558,1)" font-size="55">0</text>
<text transform="translate(1889.78,2810.00) scale(0.7064,1)" font-size="56" font-weight="700">Control</text>
<text transform="translate(2198.36,2810.00) scale(0.7046,1)" font-size="56" font-weight="700">HFD</text>
<text transform="translate(2467.41,2810.00) scale(0.6920,1)" font-size="56" font-weight="700">NAC</text>
<text transform="translate(2675.00,2810.00) scale(0.7200,1)" font-size="56" font-weight="700">HFD</text>
<text transform="translate(2773.13,2810.00) scale(0.7827,1)" font-size="56" font-weight="700">+</text>
<text transform="translate(2814.13,2810.00) scale(0.6959,1)" font-size="56" font-weight="700">NAC</text>
<text transform="translate(1613.60,2661.24) rotate(-90) scale(0.7147,1)" font-size="56" font-weight="700">Control</text>
<text transform="translate(1613.60,2508.29) rotate(-90) scale(0.6649,1)" font-size="56" font-weight="700">as</text>
<text transform="translate(1613.60,2452.29) rotate(-90) scale(0.7908,1)" font-size="56" font-weight="700">100%</text>
<text transform="translate(1613.60,2326.87) rotate(-90) scale(0.6832,1)" font-size="56" font-weight="700">tissue</text>
<text transform="translate(1613.60,2204.06) rotate(-90) scale(0.7373,1)" font-size="56" font-weight="700">(arbitrary</text>
<text transform="translate(1613.60,2008.28) rotate(-90) scale(0.7130,1)" font-size="56" font-weight="700">units)</text>
<path d="M355.0 3706.0L355.0 3783.3" stroke="#000" stroke-width="3.0" fill="none"/>
<path d="M310.0 3706.0L400.0 3706.0" stroke="#000" stroke-width="3.0" fill="none"/>
<rect x="268.2" y="3784.2" width="175.3" height="455.1" fill="#fff" stroke="#000" stroke-width="3.0"/>
<path d="M355.0 4239.3L355.0 4260.8" stroke="#000" stroke-width="3.0" fill="none"/>
<path d="M630.3 3854.0L630.3 3880.2" stroke="#000" stroke-width="3.0" fill="none"/>
<path d="M585.3 3854.0L675.3 3854.0" stroke="#000" stroke-width="3.0" fill="none"/>
<rect x="543.5" y="3881.1" width="174.0" height="358.2" fill="#c0c0c0" stroke="#000" stroke-width="3.0"/>
<path d="M630.3 4239.3L630.3 4260.8" stroke="#000" stroke-width="3.0" fill="none"/>
<path d="M902.5 3752.0L902.5 3823.7" stroke="#000" stroke-width="3.0" fill="none"/>
<path d="M857.5 3752.0L947.5 3752.0" stroke="#000" stroke-width="3.0" fill="none"/>
<rect x="813.5" y="3824.6" width="177.4" height="414.7" fill="#000" stroke="#000" stroke-width="3.0"/>
<path d="M902.5 4239.3L902.5 4260.8" stroke="#000" stroke-width="3.0" fill="none"/>
<path d="M1175.8 3569.2L1175.8 3645.5" stroke="#000" stroke-width="3.0" fill="none"/>
<path d="M1130.8 3569.2L1220.8 3569.2" stroke="#000" stroke-width="3.0" fill="none"/>
<rect x="1088.4" y="3646.4" width="175.7" height="592.9" fill="#808080" stroke="#000" stroke-width="3.0"/>
<path d="M1175.8 4239.3L1175.8 4260.8" stroke="#000" stroke-width="3.0" fill="none"/>
<rect x="174.0" y="3325.9" width="1191.0" height="913.4" fill="none" stroke="#000" stroke-width="3.0"/>
<path d="M152.5 3325.9L174.0 3325.9" stroke="#000" stroke-width="3.0" fill="none"/>
<text transform="translate(66.58,3348.80) scale(0.8025,1)" font-size="55">200</text>
<path d="M152.5 3551.9L174.0 3551.9" stroke="#000" stroke-width="3.0" fill="none"/>
<text transform="translate(67.58,3579.10) scale(0.7913,1)" font-size="55">150</text>
<path d="M152.5 3781.3L174.0 3781.3" stroke="#000" stroke-width="3.0" fill="none"/>
<text transform="translate(67.58,3809.40) scale(0.7913,1)" font-size="55">100</text>
<path d="M152.5 4009.0L174.0 4009.0" stroke="#000" stroke-width="3.0" fill="none"/>
<text transform="translate(92.17,4040.50) scale(0.7848,1)" font-size="55">50</text>
<path d="M152.5 4239.3L174.0 4239.3" stroke="#000" stroke-width="3.0" fill="none"/>
<text transform="translate(114.16,4270.80) scale(0.8558,1)" font-size="55">0</text>
<text transform="translate(282.38,4311.50) scale(0.7054,1)" font-size="56" font-weight="700">Control</text>
<text transform="translate(589.32,4311.50) scale(0.7156,1)" font-size="56" font-weight="700">HFD</text>
<text transform="translate(859.97,4311.50) scale(0.6765,1)" font-size="56" font-weight="700">NAC</text>
<text transform="translate(1068.31,4311.50) scale(0.7174,1)" font-size="56" font-weight="700">HFD</text>
<text transform="translate(1166.08,4311.50) scale(0.7799,1)" font-size="56" font-weight="700">+</text>
<text transform="translate(1206.94,4311.50) scale(0.6934,1)" font-size="56" font-weight="700">NAC</text>
<text transform="translate(41.40,4168.24) rotate(-90) scale(0.7147,1)" font-size="56" font-weight="700">Control</text>
<text transform="translate(41.40,4015.29) rotate(-90) scale(0.6649,1)" font-size="56" font-weight="700">as</text>
<text transform="translate(41.40,3959.29) rotate(-90) scale(0.7908,1)" font-size="56" font-weight="700">100%</text>
<text transform="translate(41.40,3833.87) rotate(-90) scale(0.6832,1)" font-size="56" font-weight="700">tissue</text>
<text transform="translate(41.40,3711.06) rotate(-90) scale(0.7373,1)" font-size="56" font-weight="700">(arbitrary</text>
<text transform="translate(41.40,3515.28) rotate(-90) scale(0.7130,1)" font-size="56" font-weight="700">units)</text>
<path d="M1928.8 3491.4L1928.8 3635.9" stroke="#000" stroke-width="3.0" fill="none"/>
<path d="M1883.8 3491.4L1973.8 3491.4" stroke="#000" stroke-width="3.0" fill="none"/>
<rect x="1840.9" y="3636.8" width="175.6" height="608.5" fill="#fff" stroke="#000" stroke-width="3.0"/>
<path d="M1928.8 4245.3L1928.8 4266.8" stroke="#000" stroke-width="3.0" fill="none"/>
<path d="M2205.0 3644.0L2205.0 3745.5" stroke="#000" stroke-width="3.0" fill="none"/>
<path d="M2160.0 3644.0L2250.0 3644.0" stroke="#000" stroke-width="3.0" fill="none"/>
<rect x="2116.5" y="3746.4" width="176.0" height="498.9" fill="#c0c0c0" stroke="#000" stroke-width="3.0"/>
<path d="M2205.0 4245.3L2205.0 4266.8" stroke="#000" stroke-width="3.0" fill="none"/>
<path d="M2477.8 3394.4L2477.8 3597.0" stroke="#000" stroke-width="3.0" fill="none"/>
<path d="M2432.8 3394.4L2522.8 3394.4" stroke="#000" stroke-width="3.0" fill="none"/>
<rect x="2388.9" y="3597.9" width="178.3" height="647.4" fill="#000" stroke="#000" stroke-width="3.0"/>
<path d="M2477.8 4245.3L2477.8 4266.8" stroke="#000" stroke-width="3.0" fill="none"/>
<path d="M2753.0 3623.2L2753.0 3675.3" stroke="#000" stroke-width="3.0" fill="none"/>
<path d="M2708.0 3623.2L2798.0 3623.2" stroke="#000" stroke-width="3.0" fill="none"/>
<rect x="2665.2" y="3676.2" width="176.8" height="569.1" fill="#808080" stroke="#000" stroke-width="3.0"/>
<path d="M2753.0 4245.3L2753.0 4266.8" stroke="#000" stroke-width="3.0" fill="none"/>
<rect x="1747.3" y="3326.7" width="1195.7" height="918.6" fill="none" stroke="#000" stroke-width="3.0"/>
<path d="M1725.8 3326.7L1747.3 3326.7" stroke="#000" stroke-width="3.0" fill="none"/>
<text transform="translate(1634.98,3346.70) scale(0.7913,1)" font-size="55">150</text>
<path d="M1725.8 3632.5L1747.3 3632.5" stroke="#000" stroke-width="3.0" fill="none"/>
<text transform="translate(1634.98,3653.70) scale(0.7913,1)" font-size="55">100</text>
<path d="M1725.8 3934.8L1747.3 3934.8" stroke="#000" stroke-width="3.0" fill="none"/>
<text transform="translate(1659.57,3961.60) scale(0.7848,1)" font-size="55">50</text>
<path d="M1725.8 4245.3L1747.3 4245.3" stroke="#000" stroke-width="3.0" fill="none"/>
<text transform="translate(1681.56,4270.80) scale(0.8558,1)" font-size="55">0</text>
<text transform="translate(1885.38,4318.00) scale(0.7038,1)" font-size="56" font-weight="700">Control</text>
<text transform="translate(2192.34,4318.00) scale(0.7111,1)" font-size="56" font-weight="700">HFD</text>
<text transform="translate(2461.42,4318.00) scale(0.6894,1)" font-size="56" font-weight="700">NAC</text>
<text transform="translate(2669.81,4318.00) scale(0.7174,1)" font-size="56" font-weight="700">HFD</text>
<text transform="translate(2767.58,4318.00) scale(0.7799,1)" font-size="56" font-weight="700">+</text>
<text transform="translate(2808.44,4318.00) scale(0.6934,1)" font-size="56" font-weight="700">NAC</text>
<text transform="translate(1607.00,4168.24) rotate(-90) scale(0.7147,1)" font-size="56" font-weight="700">Control</text>
<text transform="translate(1607.00,4015.29) rotate(-90) scale(0.6649,1)" font-size="56" font-weight="700">as</text>
<text transform="translate(1607.00,3959.29) rotate(-90) scale(0.7908,1)" font-size="56" font-weight="700">100%</text>
<text transform="translate(1607.00,3833.87) rotate(-90) scale(0.6832,1)" font-size="56" font-weight="700">tissue</text>
<text transform="translate(1607.00,3711.06) rotate(-90) scale(0.7373,1)" font-size="56" font-weight="700">(arbitrary</text>
<text transform="translate(1607.00,3515.28) rotate(-90) scale(0.7130,1)" font-size="56" font-weight="700">units)</text>
<text transform="translate(47.85,117.00) scale(0.7991,1)" font-size="83" font-weight="700">A</text>
<text transform="translate(1620.05,116.60) scale(0.6401,1)" font-size="83" font-weight="700">B</text>
<text transform="translate(45.74,1565.00) scale(0.6634,1)" font-size="83" font-weight="700">C</text>
<text transform="translate(1611.26,1565.20) scale(0.7465,1)" font-size="83" font-weight="700">D</text>
<text transform="translate(49.66,3073.20) scale(0.6013,1)" font-size="83" font-weight="700">E</text>
<text transform="translate(1611.31,3073.50) scale(0.6650,1)" font-size="83" font-weight="700">F</text>
<text transform="translate(282.38,66.00) scale(0.7305,1)" font-size="56">15 kDa</text>
<text transform="translate(1848.22,65.00) scale(0.7314,1)" font-size="56">85 kDa</text>
<text transform="translate(274.89,1515.50) scale(0.7333,1)" font-size="56">72 kDa</text>
<text transform="translate(1780.88,1515.00) scale(0.7397,1)" font-size="56">70-72 kDa</text>
<text transform="translate(274.89,2992.50) scale(0.7333,1)" font-size="56">78 kDa</text>
<text transform="translate(1871.60,3000.00) scale(0.7321,1)" font-size="56">75 kDa</text>
<text transform="translate(1102.99,66.00) scale(0.6506,1)" font-size="56">sPLA</text>
<text transform="translate(1190.84,84.50) scale(0.7203,1)" font-size="32">2</text>
<text transform="translate(2678.45,69.70) scale(0.6509,1)" font-size="56">cPLA</text>
<text transform="translate(2766.83,87.30) scale(0.7271,1)" font-size="32">2</text>
<text transform="translate(1094.69,1532.40) scale(0.6378,1)" font-size="56">COX-1</text>
<text transform="translate(2687.41,1533.40) scale(0.6647,1)" font-size="56">COX-2</text>
<text transform="translate(1105.19,2997.00) scale(0.6747,1)" font-size="56">5-LOX</text>
<text transform="translate(2673.12,2999.00) scale(0.7464,1)" font-size="56">12/15-LOX</text>
<text transform="translate(1105.12,155.00) scale(0.7030,1)" font-size="56">Total</text>
<text transform="translate(1103.20,222.80) scale(0.7745,1)" font-size="56">protein</text>
<text transform="translate(2678.62,159.20) scale(0.7030,1)" font-size="56">Total</text>
<text transform="translate(2679.26,225.60) scale(0.7580,1)" font-size="56">protein</text>
<text transform="translate(1094.12,1622.80) scale(0.6988,1)" font-size="56">Total</text>
<text transform="translate(1095.09,1689.60) scale(0.7501,1)" font-size="56">protein</text>
<text transform="translate(2687.12,1623.40) scale(0.6980,1)" font-size="56">Total</text>
<text transform="translate(2688.19,1690.00) scale(0.7495,1)" font-size="56">protein</text>
<text transform="translate(1101.72,3087.00) scale(0.7030,1)" font-size="56">Total</text>
<text transform="translate(1102.58,3153.50) scale(0.7544,1)" font-size="56">protein</text>
<text transform="translate(2671.08,3089.00) scale(0.7350,1)" font-size="56">Total protein</text>
<text transform="translate(616.82,442.71) scale(1.0075,1)" font-size="62.09" font-weight="700">*</text>
<text transform="translate(2195.02,483.41) scale(1.0075,1)" font-size="62.09" font-weight="700">*</text>
<text stroke="#000" stroke-width="1.4" transform="translate(2736.31,663.00) scale(0.9007,1)" font-size="73.09">#</text>
<text transform="translate(616.02,1991.44) scale(1.0248,1)" font-size="61.55" font-weight="700">*</text>
<text transform="translate(2194.52,2313.63) scale(1.0161,1)" font-size="61.82" font-weight="700">*</text>
<text transform="translate(2709.21,2031.48) scale(1.0093,1)" font-size="62.62" font-weight="700">*</text>
<text stroke="#000" stroke-width="1.4" transform="translate(2766.41,2033.20) scale(0.9040,1)" font-size="72.21">#</text>
<text transform="translate(617.72,3822.40) scale(1.0388,1)" font-size="60.47" font-weight="700">*</text>
<text transform="translate(1131.72,3541.10) scale(1.0075,1)" font-size="62.35" font-weight="700">*</text>
<text stroke="#000" stroke-width="1.4" transform="translate(1188.61,3543.20) scale(0.9079,1)" font-size="72.51">#</text>
</svg>
</body></html>
